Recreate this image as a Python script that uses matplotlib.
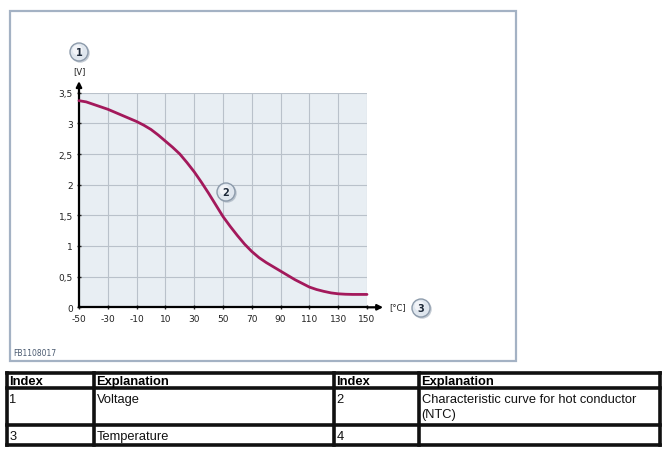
import matplotlib
matplotlib.use("Agg")
import matplotlib.pyplot as plt
from matplotlib.patches import Rectangle, Circle
from matplotlib.lines import Line2D

# ---- data ----
temps = [-50, -45, -40, -35, -30, -25, -20, -15, -10, -5, 0, 5, 10, 15, 20, 25, 30, 35, 40, 45, 50,
         55, 60, 65, 70, 75, 80, 85, 90, 95, 100, 105, 110, 115, 120, 125, 130, 135, 140, 145, 150]
volts = [3.37, 3.35, 3.31, 3.27, 3.23, 3.18, 3.13, 3.08, 3.03, 2.97, 2.90, 2.81, 2.71, 2.61, 2.50,
         2.36, 2.21, 2.04, 1.86, 1.67, 1.48, 1.32, 1.17, 1.03, 0.91, 0.81, 0.73, 0.66, 0.59, 0.52,
         0.45, 0.39, 0.33, 0.29, 0.26, 0.235, 0.22, 0.213, 0.21, 0.21, 0.21]
x_ticks = [-50, -30, -10, 10, 30, 50, 70, 90, 110, 130, 150]
y_ticks = [0, 0.5, 1, 1.5, 2, 2.5, 3, 3.5]
y_tick_labels = ["0", "0,5", "1", "1,5", "2", "2,5", "3", "3,5"]
table_header = ["Index", "Explanation", "Index", "Explanation"]
table_rows = [["1", "Voltage", "2", "Characteristic curve for hot conductor\n(NTC)"],
              ["3", "Temperature", "4", ""]]

W, H = 666, 456
fig = plt.figure(figsize=(W / 100, H / 100), dpi=100)
fig.patch.set_facecolor("white")

# overlay in pixel coordinates
ov = fig.add_axes([0, 0, 1, 1])
ov.set_xlim(0, W)
ov.set_ylim(H, 0)
ov.axis("off")
ov.set_zorder(0)

# outer frame
ov.add_patch(Rectangle((10, 12), 506, 350, fill=False, edgecolor="#a4b2c4", lw=1.6))
ov.text(13, 354, "FB1108017", fontsize=5.5, color="#4a5a70", va="center", ha="left")

# chart axes
L, R, T, B = 79, 367, 93.7, 308.3
ax = fig.add_axes([L / W, (H - B) / H, (R - L) / W, (B - T) / H])
ax.set_zorder(1)
ax.set_facecolor("#e8eef3")
ax.set_xlim(-50, 150)
ax.set_ylim(0, 3.5)
ax.set_xticks(x_ticks)
ax.set_xticklabels([str(t) for t in x_ticks])
ax.set_yticks(y_ticks)
ax.set_yticklabels(y_tick_labels)
ax.grid(True, color="#b9c1ca", lw=0.8)
ax.set_axisbelow(True)
for s in ["top", "right"]:
    ax.spines[s].set_visible(False)
for s in ["left", "bottom"]:
    ax.spines[s].set_color("black")
    ax.spines[s].set_linewidth(1.6)
ax.tick_params(axis="both", labelsize=6.5, colors="#222222", length=3, width=1, direction="inout", pad=3)
ax.plot(temps, volts, color="#a3195b", lw=2.0, solid_capstyle="round", solid_joinstyle="round",
        clip_on=False, zorder=3)

# axis arrows
ax.annotate("", xy=(1.056, 0), xytext=(1.0, 0), xycoords="axes fraction",
            arrowprops=dict(arrowstyle="-|>", color="black", lw=1.6, mutation_scale=8, shrinkA=0, shrinkB=0))
ax.annotate("", xy=(0, 1.054), xytext=(0, 1.0), xycoords="axes fraction",
            arrowprops=dict(arrowstyle="-|>", color="black", lw=1.6, mutation_scale=8, shrinkA=0, shrinkB=0))

# top overlay for badges/unit labels
top = fig.add_axes([0, 0, 1, 1])
top.set_xlim(0, W)
top.set_ylim(H, 0)
top.axis("off")
top.set_zorder(2)
top.patch.set_alpha(0)

def badge(x, y, label):
    top.add_patch(Circle((x + 1.2, y + 1.2), 9.5, facecolor="#9aa6b4", edgecolor="none", alpha=0.6))
    top.add_patch(Circle((x, y), 9, facecolor="#dfe6ee", edgecolor="#8d9bab", lw=1.0))
    top.add_patch(Circle((x - 1.5, y - 2), 5, facecolor="white", edgecolor="none", alpha=0.6))
    top.text(x, y + 0.5, label, fontsize=7, fontweight="bold", color="#1e2a3a", ha="center", va="center")

badge(79, 53, "1")
badge(226, 193, "2")
badge(421, 309, "3")
top.text(79, 72, "[V]", fontsize=6, color="#222222", ha="center", va="center")
top.text(398, 308, "[°C]", fontsize=6, color="#222222", ha="center", va="center")

# table
cols = [7, 94, 334, 419, 660]
rows = [374, 389.5, 426.5, 446]
tlw = 2.6
for xc in cols:
    top.add_line(Line2D([xc, xc], [rows[0], rows[-1]], color="#111111", lw=tlw, solid_capstyle="projecting"))
for yr in rows:
    top.add_line(Line2D([cols[0], cols[-1]], [yr, yr], color="#111111", lw=tlw, solid_capstyle="projecting"))

fam = ["Liberation Sans Narrow", "Liberation Sans", "DejaVu Sans"]
for i, h in enumerate(table_header):
    top.text(cols[i] + 2.5, (rows[0] + rows[1]) / 2 + 0.5, h, fontsize=9.3, fontweight="bold",
             family=fam, ha="left", va="center", color="black")
# first body row: text from top of cell
for i, cell in enumerate(table_rows[0]):
    if cell:
        top.text(cols[i] + 2.5, rows[1] + 5, cell, fontsize=9.3, family=fam, ha="left", va="top",
                 color="#111111", linespacing=1.3)
# second body row: vertically centred
for i, cell in enumerate(table_rows[1]):
    if cell:
        top.text(cols[i] + 2.5, (rows[2] + rows[3]) / 2 + 0.5, cell, fontsize=9.3, family=fam,
                 ha="left", va="center", color="#111111")

fig.savefig("out.png", dpi=100, facecolor="white")
